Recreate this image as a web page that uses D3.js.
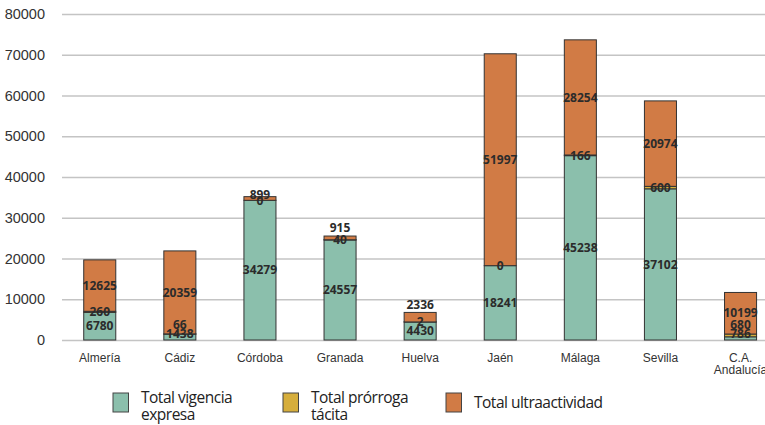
<!DOCTYPE html>
<html>
<head>
<meta charset="utf-8">
<script src="https://cdn.jsdelivr.net/npm/d3@7"></script>
<style>
  body { margin: 0; background: #fff; }
  svg { font-family: "Open Sans", sans-serif; }
</style>
</head>
<body>
<svg width="765" height="425"></svg>
<script>
// data
const provincias = ["Almería", "Cádiz", "Córdoba", "Granada", "Huelva", "Jaén", "Málaga", "Sevilla", "C.A. Andalucía"];
const vigencia = [6780, 1438, 34279, 24557, 4430, 18241, 45238, 37102, 786];
const prorroga = [260, 66, 0, 40, 2, 0, 166, 600, 680];
const ultra = [12625, 20359, 899, 915, 2336, 51997, 28254, 20974, 10199];
const yTicks = [0, 10000, 20000, 30000, 40000, 50000, 60000, 70000, 80000];
const series = ["Total vigencia expresa", "Total prórroga tácita", "Total ultraactividad"];

const colors = ["#8bbfac", "#d6ae3c", "#d17b45"];
const keys = ["vig", "pro", "ult"];

const rows = provincias.map((p, i) => ({ cat: p, vig: vigencia[i], pro: prorroga[i], ult: ultra[i] }));

const svg = d3.select("svg");

const x = d3.scaleBand()
  .domain(provincias)
  .range([59.7, 780.6])
  .paddingInner(0.6)
  .paddingOuter(0.3);

const y = d3.scaleLinear().domain([0, 80000]).range([340, 14]);

// gridlines + y labels
const gy = svg.append("g")
  .attr("transform", "translate(62,0)")
  .call(d3.axisLeft(y).tickValues(yTicks).tickSize(-(765 - 62)).tickPadding(17).tickFormat(d3.format("d")));
gy.select(".domain").remove();
gy.selectAll(".tick line").attr("stroke", "#c4c4c4").attr("stroke-width", 1.4);
gy.selectAll(".tick text").attr("fill", "#333").attr("font-size", 14.5);

// x labels
const gx = svg.append("g")
  .attr("transform", "translate(0,350)")
  .call(d3.axisBottom(x).tickSize(0).tickPadding(0));
gx.select(".domain").remove();
gx.selectAll(".tick text")
  .attr("fill", "#333")
  .attr("font-size", 12)
  .each(function (d) {
    const t = d3.select(this);
    const parts = d.split(" ");
    t.text(null).attr("y", 0).attr("dy", null);
    parts.forEach((p, j) => {
      t.append("tspan").attr("x", 0).attr("y", 12 + j * 12).text(p);
    });
  });

const stacked = d3.stack().keys(keys)(rows);

const barG = svg.append("g");
stacked.forEach((s, k) => {
  barG.selectAll(null)
    .data(s)
    .join("rect")
    .attr("x", d => x(d.data.cat))
    .attr("width", x.bandwidth())
    .attr("y", d => y(d[1]))
    .attr("height", d => y(d[0]) - y(d[1]))
    .attr("fill", colors[k])
    .attr("stroke", "#333")
    .attr("stroke-width", 1);
});

// value labels, nudged so they don't sit on top of each other
const labelG = svg.append("g")
  .attr("font-size", 12)
  .attr("font-weight", "bold")
  .attr("fill", "#2b2b2b")
  .attr("text-anchor", "middle");

rows.forEach((r, i) => {
  let prev = null;
  stacked.forEach((s, k) => {
    const d = s[i];
    const y0 = y(d[0]), y1 = y(d[1]);
    let cy = (y0 + y1) / 2;
    // thin top segment: label goes above the bar, unless a zero sits right under it
    if (k === 2 && y0 - y1 < 12) cy = r.pro === 0 ? y1 + 1 : y1 - 8;
    if (prev === null) cy = Math.min(cy, 334);
    else if (k === 2 && r.pro === 0 && y0 - y1 < 12) cy = prev - 6;
    else cy = Math.min(cy, prev - 9);
    prev = cy;
    labelG.append("text")
      .attr("x", x(r.cat) + x.bandwidth() / 2)
      .attr("y", cy)
      .attr("dy", "0.35em")
      .text(r[keys[k]]);
  });
});

// legend
const legendX = [113, 283, 446];
const legendLines = [["Total vigencia", "expresa"], ["Total prórroga", "tácita"], ["Total ultraactividad"]];
const lg = svg.append("g");
series.forEach((name, k) => {
  const g = lg.append("g").attr("transform", `translate(${legendX[k]},393)`);
  g.append("rect")
    .attr("width", 15.5).attr("height", 19)
    .attr("fill", colors[k]).attr("stroke", "#444").attr("stroke-width", 1);
  const t = g.append("text")
    .attr("fill", "#222")
    .attr("font-size", 15.5)
    .attr("letter-spacing", -0.5);
  const lines = legendLines[k];
  lines.forEach((ln, j) => {
    t.append("tspan")
      .attr("x", 28)
      .attr("y", lines.length === 1 ? 15 : 10 + j * 17)
      .text(ln);
  });
});
</script>
</body>
</html>
